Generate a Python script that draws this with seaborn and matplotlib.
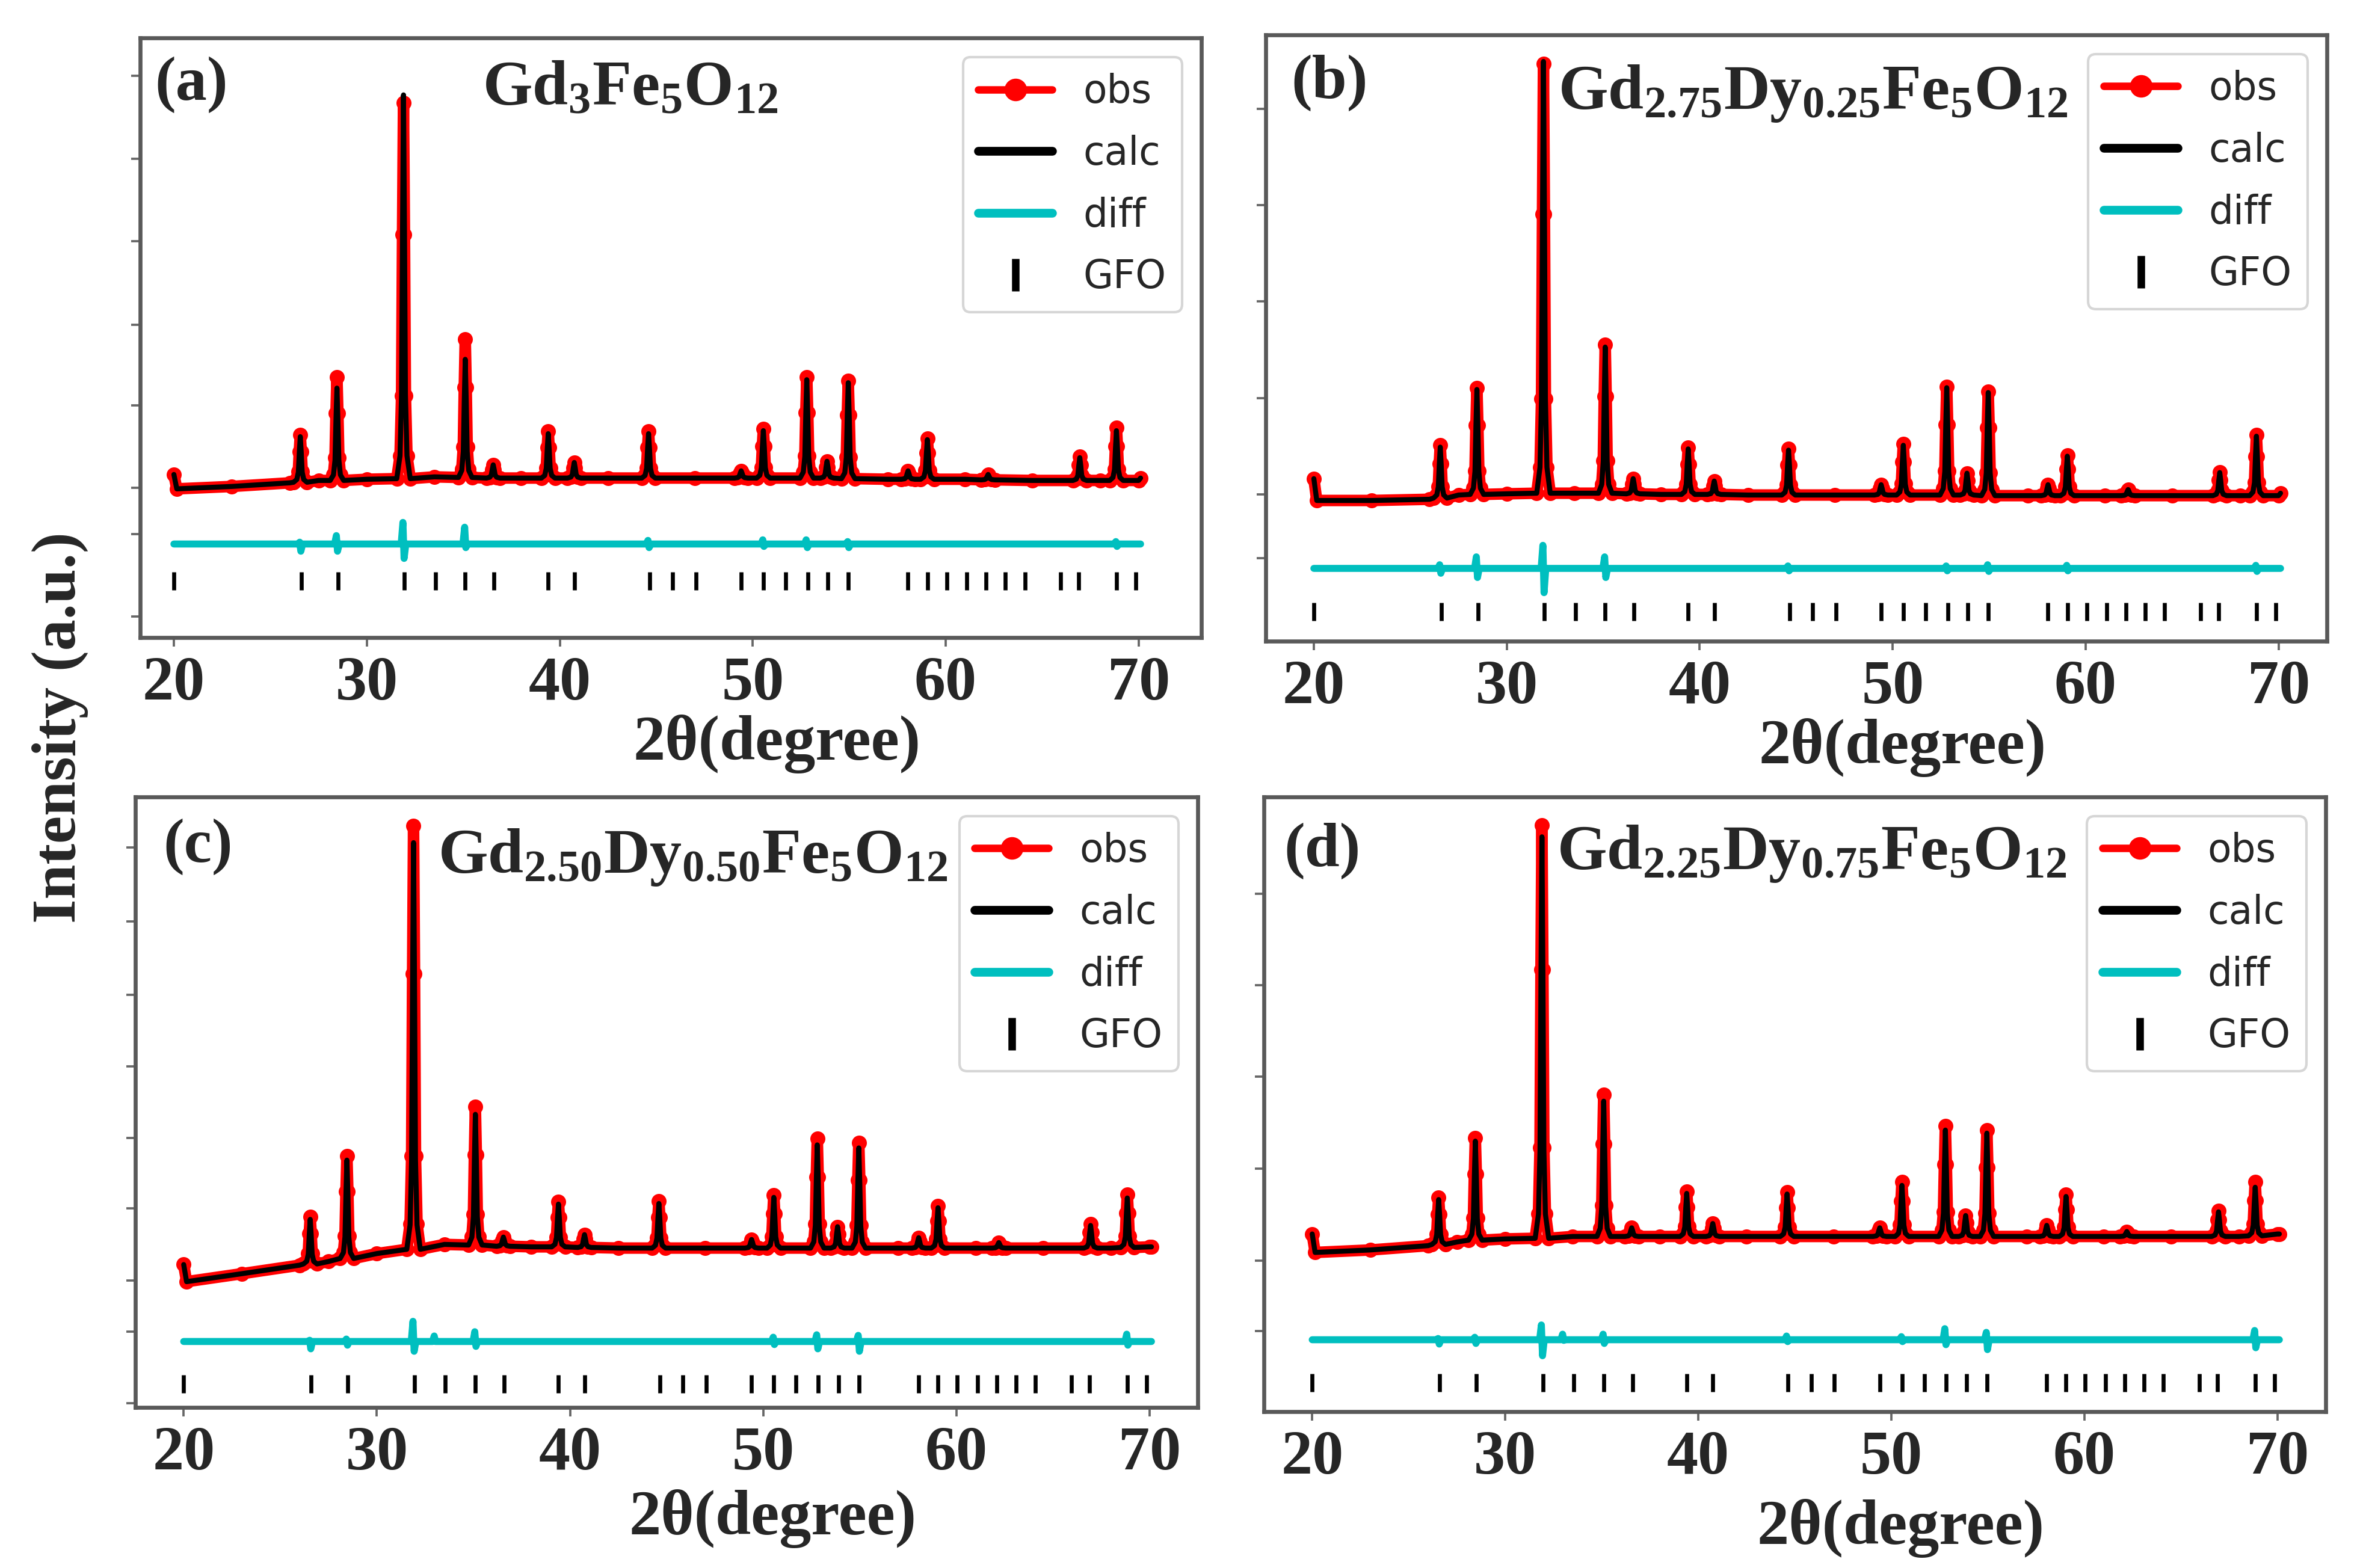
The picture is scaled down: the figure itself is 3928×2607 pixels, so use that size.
import numpy as np
import matplotlib
matplotlib.use("Agg")
import matplotlib.pyplot as plt
from matplotlib.lines import Line2D
import seaborn as sns

# ---------------- data (intensity in a.u.) ----------------
PEAK_POS = [26.55, 28.45, 31.9, 35.1, 36.55, 39.4, 40.75, 44.6, 49.4, 50.55,
            52.8, 53.85, 54.95, 58.05, 59.05, 62.2, 66.95, 68.85]
GFO_POS = [20.0, 26.6, 28.5, 31.95, 33.55, 35.1, 36.6, 39.4, 40.75, 44.65, 45.85,
           47.05, 49.4, 50.55, 51.7, 52.85, 53.9, 54.95, 58.05, 59.05, 60.05,
           61.1, 62.1, 63.1, 64.1, 65.95, 66.9, 68.85, 69.85]
BG_X = [20.0, 20.15, 23.0, 26.0, 27.5, 30.0, 33.5, 38.0, 42.5, 47.0, 57.0,
        61.0, 64.5, 68.0, 70.0, 70.1]
XTICKS = [20, 30, 40, 50, 60, 70]

# panel (a)
a_bg = [27.2, 24.8, 25.2, 25.8, 26.2, 26.4, 26.8, 26.6, 26.6, 26.6, 26.4,
        26.4, 26.2, 26.2, 26.2, 26.6]
a_obs = [33.8, 43.4, 89.2, 49.8, 28.8, 34.4, 29.2, 34.4, 27.8, 34.8, 43.4,
         29.4, 42.8, 27.8, 33.2, 27.2, 30.2, 35.0]
a_calc = [33.5, 41.6, 90.5, 46.4, 28.8, 34.0, 29.2, 34.0, 27.8, 34.5, 43.0,
          29.4, 42.5, 27.8, 33.0, 27.2, 30.0, 34.5]
a_base = [25.9, 26.2, 26.5, 26.7, 26.6, 26.6, 26.6, 26.6, 26.6, 26.6, 26.6,
          26.6, 26.5, 26.4, 26.4, 26.3, 26.2, 26.2]
a_diff0 = 15.6
a_spk_x = [26.55, 28.45, 31.9, 35.1, 44.6, 50.55, 52.8, 54.95, 68.85]
a_spk_up = [15.9, 17.0, 19.2, 18.4, 16.2, 16.3, 16.3, 16.0, 16.0]
a_spk_dn = [14.4, 14.4, 13.2, 15.0, 15.0, 15.2, 15.0, 15.0, 15.2]
a_tickrow = 9.4
a_yticks = [3.5, 17.3, 25.0, 38.7, 52.2, 66.1, 79.8, 93.7]

# panel (b)
b_bg = [26.8, 23.2, 23.2, 23.4, 24.1, 24.3, 24.4, 24.2, 24.1, 24.1, 24.0,
        24.0, 24.0, 24.0, 24.0, 24.4]
b_obs = [32.3, 41.8, 95.2, 48.9, 26.8, 31.9, 26.4, 31.7, 25.8, 32.5, 42.0,
         27.7, 41.2, 25.8, 30.7, 25.0, 27.9, 34.0]
b_calc = [32.0, 41.5, 95.6, 48.5, 26.8, 31.7, 26.4, 31.5, 25.8, 32.3, 41.8,
          27.7, 41.0, 25.8, 30.5, 25.0, 27.8, 33.8]
b_base = [23.6, 24.2, 24.4, 24.4, 24.3, 24.2, 24.2, 24.1, 24.1, 24.1, 24.1,
          24.1, 24.0, 24.0, 24.0, 24.0, 24.0, 24.0]
b_diff0 = 12.0
b_spk_x = [26.55, 28.45, 31.9, 35.1, 44.6, 52.8, 54.95, 59.05, 68.85]
b_spk_up = [12.6, 13.9, 15.8, 13.9, 12.4, 12.4, 12.6, 12.5, 12.5]
b_spk_dn = [11.2, 10.5, 8.0, 10.5, 11.6, 11.6, 11.5, 11.6, 11.5]
b_tickrow = 4.9
b_yticks = [13.7, 24.2, 40.1, 56.0, 71.9, 87.8]

# panel (c)
c_bg = [23.4, 20.6, 21.9, 23.3, 23.9, 25.2, 26.7, 26.3, 26.1, 26.1, 26.1,
        26.1, 26.1, 26.1, 26.3, 26.3]
c_obs = [31.2, 41.2, 95.3, 49.3, 27.9, 33.7, 28.3, 33.8, 27.5, 34.8, 44.0,
         29.6, 43.3, 27.8, 33.0, 27.0, 30.0, 34.9]
c_calc = [30.8, 40.5, 92.5, 48.0, 27.9, 33.3, 28.3, 33.4, 27.5, 34.4, 43.0,
          29.6, 42.5, 27.8, 32.7, 27.0, 29.8, 34.3]
c_base = [23.5, 24.4, 25.9, 26.6, 26.4, 26.3, 26.2, 26.1, 26.1, 26.1, 26.1,
          26.1, 26.1, 26.1, 26.1, 26.1, 26.1, 26.2]
c_diff0 = 10.8
c_spk_x = [26.55, 28.45, 31.9, 33.0, 35.1, 50.55, 52.8, 54.95, 68.85]
c_spk_up = [11.0, 11.2, 14.1, 11.7, 12.4, 11.5, 11.9, 11.8, 12.0]
c_spk_dn = [9.6, 10.2, 9.2, 10.8, 10.0, 10.3, 9.6, 9.2, 10.2]
c_tickrow = 3.8
c_yticks = [0.7, 12.4, 20.8, 32.6, 44.1, 55.9, 67.6, 79.6, 91.7]

# panel (d)
d_bg = [28.9, 25.9, 26.3, 27.0, 27.6, 28.1, 28.5, 28.5, 28.5, 28.5, 28.5,
        28.5, 28.5, 28.5, 28.9, 28.9]
d_obs = [34.8, 44.5, 95.4, 51.6, 29.9, 35.8, 30.6, 35.7, 29.9, 37.4, 46.5,
         31.9, 45.8, 30.3, 35.3, 29.3, 32.7, 37.4]
d_calc = [34.5, 44.0, 93.5, 50.5, 29.9, 35.5, 30.6, 35.4, 29.9, 36.8, 45.8,
          31.9, 45.3, 30.3, 35.0, 29.3, 32.5, 36.5]
d_base = [27.2, 27.9, 28.2, 28.5, 28.5, 28.5, 28.5, 28.5, 28.5, 28.5, 28.5,
          28.5, 28.5, 28.5, 28.5, 28.5, 28.5, 28.6]
d_diff0 = 11.7
d_spk_x = [26.55, 28.45, 31.9, 33.0, 35.1, 44.6, 50.55, 52.8, 54.95, 68.85]
d_spk_up = [11.9, 12.1, 14.1, 12.6, 12.6, 12.3, 12.2, 13.5, 12.9, 13.2]
d_spk_dn = [11.0, 11.1, 9.1, 11.6, 11.1, 11.4, 11.4, 10.9, 10.1, 10.4]
d_tickrow = 4.7
d_yticks = [13.1, 24.6, 39.5, 54.5, 69.4, 84.2]

TITLES = [r"$\mathrm{Gd_3Fe_5O_{12}}$",
          r"$\mathrm{Gd_{2.75}Dy_{0.25}Fe_5O_{12}}$",
          r"$\mathrm{Gd_{2.50}Dy_{0.50}Fe_5O_{12}}$",
          r"$\mathrm{Gd_{2.25}Dy_{0.75}Fe_5O_{12}}$"]
LABELS = ["(a)", "(b)", "(c)", "(d)"]

# ---------------- styling / layout ----------------
SHAPE_DX = [-0.35, -0.18, -0.10, -0.05, 0.0, 0.05, 0.10, 0.18, 0.35]
SHAPE_FR = [0.0, 0.06, 0.22, 0.65, 1.0, 0.65, 0.22, 0.06, 0.0]

sns.set_theme(style="white")
SERIF = ["Liberation Serif", "DejaVu Serif"]
plt.rcParams["font.family"] = ["DejaVu Sans"]
plt.rcParams["mathtext.fontset"] = "custom"
plt.rcParams["mathtext.rm"] = "Liberation Serif:bold"
plt.rcParams["mathtext.it"] = "Liberation Serif:bold"
plt.rcParams["mathtext.bf"] = "Liberation Serif:bold"

fig = plt.figure(figsize=(3928 / 300, 2607 / 300), dpi=300)
fig.patch.set_facecolor("white")

boxes = [(0.0593, 0.5934, 0.4491, 0.3824),
         (0.5356, 0.5911, 0.4491, 0.3867),
         (0.0573, 0.1024, 0.4496, 0.3894),
         (0.5349, 0.0997, 0.4493, 0.3921)]
xlims = [(18.25, 73.25), (17.5, 72.5), (17.5, 72.5), (17.5, 72.5)]
title_pos = [(0.462, 0.888), (0.516, 0.878), (0.525, 0.876), (0.516, 0.882)]
label_pos = [(0.014, 0.922), (0.024, 0.921), (0.026, 0.918), (0.019, 0.912)]
xlabel_y = [-0.178, -0.176, -0.182, -0.190]

panels = [
    (a_bg, a_obs, a_calc, a_base, a_diff0, a_spk_x, a_spk_up, a_spk_dn, a_tickrow, a_yticks),
    (b_bg, b_obs, b_calc, b_base, b_diff0, b_spk_x, b_spk_up, b_spk_dn, b_tickrow, b_yticks),
    (c_bg, c_obs, c_calc, c_base, c_diff0, c_spk_x, c_spk_up, c_spk_dn, c_tickrow, c_yticks),
    (d_bg, d_obs, d_calc, d_base, d_diff0, d_spk_x, d_spk_up, d_spk_dn, d_tickrow, d_yticks),
]


def profile(bg_y, tops, bases):
    xs = list(BG_X)
    ys = list(bg_y)
    for p, t, b in zip(PEAK_POS, tops, bases):
        for dx, fr in zip(SHAPE_DX, SHAPE_FR):
            xs.append(p + dx)
            ys.append(b + fr * (t - b))
    order = np.argsort(xs, kind="stable")
    return np.asarray(xs)[order], np.asarray(ys)[order]


def diff_curve(base, sx, up, dn):
    xs = [20.0]
    ys = [base]
    for p, u, d in zip(sx, up, dn):
        xs += [p - 0.12, p - 0.03, p + 0.03, p + 0.12]
        ys += [base, u, d, base]
    xs.append(70.1)
    ys.append(base)
    return np.asarray(xs), np.asarray(ys)


for i, (bg, obs, calc, base, d0, sx, su, sd, trow, yt) in enumerate(panels):
    ax = fig.add_axes(boxes[i])
    ox, oy = profile(bg, obs, base)
    cx, cy = profile(bg, calc, base)
    dx, dy = diff_curve(d0, sx, su, sd)

    sns.lineplot(x=ox, y=oy, ax=ax, color="#ff0000", linewidth=4.6, marker="o",
                 markersize=6, markeredgecolor="#ff0000", markeredgewidth=0,
                 estimator=None, sort=False, legend=False, zorder=2)
    sns.lineplot(x=cx, y=cy, ax=ax, color="black", linewidth=2.0,
                 estimator=None, sort=False, legend=False, zorder=3)
    sns.lineplot(x=dx, y=dy, ax=ax, color="#00bfbf", linewidth=2.8,
                 estimator=None, sort=False, legend=False, zorder=3)
    ax.plot(GFO_POS, [trow] * len(GFO_POS), linestyle="none", marker="|",
            markersize=7, markeredgewidth=1.6, color="black", zorder=3)

    ax.set_xlim(*xlims[i])
    ax.set_ylim(0, 100)
    ax.set_xticks(XTICKS)
    ax.set_xticklabels([str(v) for v in XTICKS], fontfamily=SERIF,
                       fontweight="bold", fontsize=25)
    ax.set_yticks(yt)
    ax.set_yticklabels([])
    ax.tick_params(axis="both", direction="out", length=3.5, width=0.9,
                   color="0.4", pad=4, left=True, bottom=True)
    for sp in ax.spines.values():
        sp.set_visible(True)
        sp.set_color("0.35")
        sp.set_linewidth(1.6)
    ax.set_xlabel("")
    ax.set_ylabel("")

    ax.text(label_pos[i][0], label_pos[i][1], LABELS[i], transform=ax.transAxes,
            ha="left", va="center", fontfamily=SERIF, fontweight="bold",
            fontsize=25)
    ax.text(title_pos[i][0], title_pos[i][1], TITLES[i], transform=ax.transAxes,
            ha="center", va="baseline", fontsize=25.5)
    ax.text(0.60, xlabel_y[i], "2θ(degree)", transform=ax.transAxes,
            ha="center", va="center", fontfamily=SERIF, fontweight="bold",
            fontsize=25.5)

    handles = [
        Line2D([], [], color="#ff0000", lw=3.0, marker="o", markersize=8),
        Line2D([], [], color="black", lw=3.5),
        Line2D([], [], color="#00bfbf", lw=3.5),
        Line2D([], [], color="black", linestyle="none", marker="|",
               markersize=13, markeredgewidth=3),
    ]
    ax.legend(handles, ["obs", "calc", "diff", "GFO"], loc="upper right",
              prop={"family": "DejaVu Sans", "size": 15.5}, frameon=True,
              edgecolor="0.8", framealpha=0.8, fancybox=True,
              labelspacing=0.6, handlelength=1.9)

fig.text(0.0255, 0.536, "Intensity (a.u.)", rotation=90, ha="center",
         va="center", fontfamily=SERIF, fontweight="bold", fontsize=25)

fig.savefig("out.png", dpi=300, facecolor="white")
